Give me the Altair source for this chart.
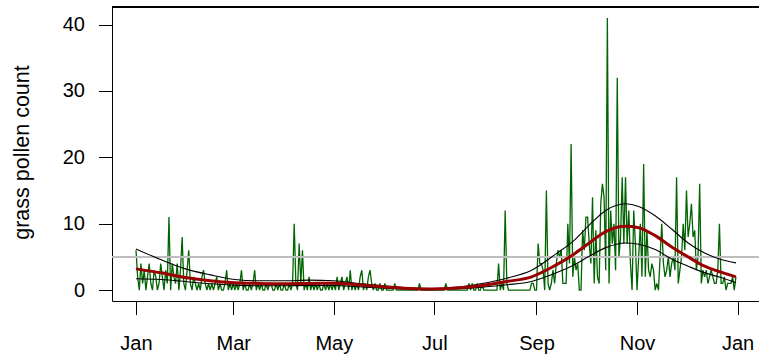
import altair as alt
import pandas as pd

# Daily grass pollen counts, one list per month (day 0 = 1 January)
jan = [6, 2, 0, 4, 1, 3, 0, 2, 4, 1, 0, 3, 2, 0, 1, 4, 2, 0, 3, 1,
       11, 0, 4, 2, 1, 4, 0, 3, 8, 1, 0]
feb = [3, 6, 1, 0, 2, 1, 0, 1, 0, 2, 3, 1, 0, 1, 0, 1, 0, 1, 2, 0,
       1, 0, 0, 1, 3, 0, 1, 0]
mar = [1, 0, 1, 0, 1, 3, 0, 1, 0, 0, 1, 0, 1, 3, 0, 1, 0, 1, 0, 0,
       1, 0, 1, 1, 0, 0, 1, 0, 1, 0, 0]
apr = [1, 0, 0, 1, 0, 1, 10, 1, 0, 7, 1, 6, 0, 1, 0, 2, 0, 1, 0, 1,
       0, 1, 0, 0, 1, 0, 1, 0, 1, 0]
may = [1, 0, 2, 0, 1, 2, 0, 1, 2, 0, 3, 0, 1, 0, 1, 0, 2, 3, 0, 1,
       0, 2, 3, 1, 0, 1, 0, 0, 1, 0, 0]
jun = [1, 0, 0, 0, 0, 0, 1, 0, 0, 0, 0, 0, 0, 0, 0, 0, 0, 0, 0, 0,
       0, 1, 0, 0, 0, 0, 0, 0, 0, 0]
jul = [0, 0, 0, 0, 0, 0, 0, 1, 0, 0, 0, 0, 0, 0, 0, 0, 0, 0, 0, 0,
       0, 1, 0, 1, 0, 0, 1, 0, 0, 1, 0]
aug = [0, 0, 0, 0, 0, 0, 0, 0, 4, 0, 1, 0, 12, 1, 0, 0, 0, 0, 0, 0,
       0, 0, 0, 0, 0, 0, 0, 0, 1, 1, 0]
sep = [0, 7, 4, 4, 3, 0, 15, 1, 0, 1, 3, 1, 4, 6, 5, 6, 1, 1, 1, 10,
       4, 22, 2, 5, 3, 4, 0, 0, 9, 6]
oct_ = [11, 11, 7, 4, 14, 1, 9, 2, 1, 13, 16, 14, 3, 41, 1, 12, 7, 10, 3, 32,
        5, 8, 17, 7, 17, 7, 12, 4, 0, 12, 7]
nov = [0, 5, 10, 2, 19, 2, 9, 3, 2, 4, 3, 0, 1, 0, 5, 10, 4, 2, 3, 5,
       2, 4, 5, 3, 17, 1, 3, 5, 10, 6]
dec = [15, 8, 10, 13, 8, 9, 3, 5, 16, 1, 3, 2, 3, 1, 2, 3, 2, 1, 1, 3,
       10, 1, 1, 2, 0, 1, 1, 1, 2, 0, 2]

counts = jan + feb + mar + apr + may + jun + jul + aug + sep + oct_ + nov + dec
days = list(range(len(counts)))

# Seasonal fit (mean) with its lower and upper band
fit_days = [0, 15, 30, 45, 60, 75, 90, 105, 120, 135, 150, 165, 180, 195, 210,
            225, 240, 255, 265, 275, 285, 297, 305, 315, 325, 335, 345, 355, 364]
fit_mean = [3.2, 2.6, 1.9, 1.4, 1.1, 1.0, 0.95, 1.0, 1.05, 0.8, 0.5, 0.25, 0.15, 0.3, 0.7,
            1.3, 2.0, 3.8, 5.3, 7.1, 8.8, 9.6, 9.4, 8.2, 6.5, 5.0, 3.6, 2.7, 2.0]
fit_upper = [6.2, 4.6, 3.2, 2.3, 1.6, 1.4, 1.4, 1.5, 1.4, 1.0, 0.65, 0.35, 0.25, 0.45, 1.0,
             1.8, 3.0, 5.5, 7.3, 9.8, 12.0, 13.0, 12.6, 11.2, 9.2, 7.1, 5.6, 4.6, 4.1]
fit_lower = [1.7, 1.6, 1.3, 0.95, 0.75, 0.65, 0.65, 0.7, 0.7, 0.5, 0.3, 0.15, 0.08, 0.2, 0.45,
             0.8, 1.3, 2.6, 3.7, 5.1, 6.4, 7.1, 6.9, 6.1, 4.7, 3.6, 2.6, 1.9, 1.1]

threshold = 5

month_ticks = [0, 59, 120, 181, 243, 304, 365]
month_labels = ["Jan", "Mar", "May", "Jul", "Sep", "Nov", "Jan"]
y_ticks = [0, 10, 20, 30, 40]

FONT = "Liberation Sans"
W, H = 647, 294

daily = pd.DataFrame({"day": days, "count": counts})
fit = pd.DataFrame({"day": fit_days, "mean": fit_mean,
                    "upper": fit_upper, "lower": fit_lower})

label_expr = "{}[indexof({}, datum.value)]".format(
    "[" + ",".join("'%s'" % m for m in month_labels) + "]",
    "[" + ",".join(str(t) for t in month_ticks) + "]",
)

x_scale = alt.Scale(domain=[-14.56, 378.0], nice=False, zero=False)
y_scale = alt.Scale(domain=[-1.64, 42.64], nice=False, zero=False)

x_axis = alt.Axis(values=month_ticks, labelExpr=label_expr, title=None,
                  grid=False, tickSize=13.5, labelPadding=19,
                  labelFontSize=20, labelFont=FONT, labelColor="black",
                  domainColor="black", tickColor="black", labelFlush=False)
y_axis = alt.Axis(values=y_ticks, title="grass pollen count", grid=False,
                  tickSize=13.5, labelPadding=14, labelFontSize=20,
                  labelFont=FONT, labelColor="black", domainColor="black",
                  tickColor="black", titleFont=FONT, titleFontSize=21.5,
                  titleFontWeight="normal", titleColor="black",
                  titleAngle=-90, titleX=-83.5, titleY=145,
                  titleBaseline="alphabetic", titleAlign="center")

x_enc = alt.X("day:Q", scale=x_scale, axis=x_axis)

green = alt.Chart(daily).mark_line(color="#006400", strokeWidth=1.3).encode(
    x=x_enc,
    y=alt.Y("count:Q", scale=y_scale, axis=y_axis),
)

ref = alt.Chart(daily).mark_rule(color="#BEBEBE", strokeWidth=1.5).encode(
    y=alt.datum(threshold)
)

upper = alt.Chart(fit).mark_line(color="black", strokeWidth=1.1,
                                 interpolate="monotone").encode(
    x="day:Q", y="upper:Q")
lower = alt.Chart(fit).mark_line(color="black", strokeWidth=1.1,
                                 interpolate="monotone").encode(
    x="day:Q", y="lower:Q")
mean = alt.Chart(fit).mark_line(color="#9B0000", strokeWidth=3,
                                interpolate="monotone").encode(
    x="day:Q", y="mean:Q")

top_edge = alt.Chart(daily).mark_rule(color="black", strokeWidth=1).encode(
    x=alt.value(0), x2=alt.value(W), y=alt.value(0)
)

chart = alt.layer(green, ref, upper, lower, mean, top_edge).properties(
    width=W, height=H,
    padding={"left": 112, "top": 7, "right": 0, "bottom": 54},
    autosize=alt.AutoSizeParams(type="none"),
    background="white",
).configure_view(stroke=None)

chart.save("out.html", embed_options={"renderer": "svg", "actions": False})
